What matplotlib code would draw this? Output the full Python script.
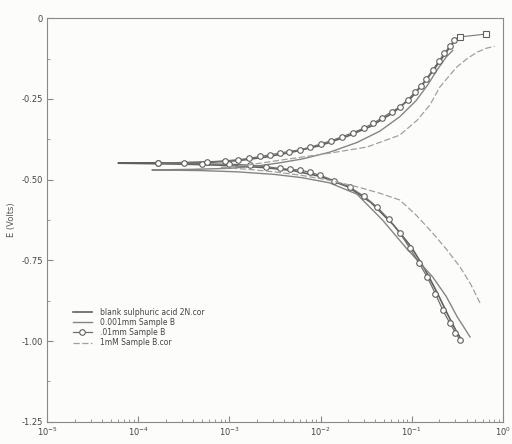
import numpy as np
import matplotlib.pyplot as plt
from matplotlib.ticker import FixedLocator, LogLocator, NullFormatter

# log10 of current density and potential (V)
# blank sulphuric acid 2N
blank_anodic_logi = [-4.22, -3.6, -3.2, -2.9, -2.6, -2.3, -2.0, -1.7, -1.45, -1.2,
                     -1.0, -0.85, -0.72, -0.62, -0.55, -0.50]
blank_anodic_e = [-0.449, -0.448, -0.446, -0.441, -0.430, -0.414, -0.394, -0.365,
                  -0.335, -0.292, -0.245, -0.195, -0.145, -0.105, -0.078, -0.062]
blank_cath_logi = [-4.22, -3.5, -3.0, -2.6, -2.3, -2.0, -1.7, -1.45, -1.2, -1.0,
                   -0.85, -0.72, -0.60, -0.50, -0.44]
blank_cath_e = [-0.449, -0.452, -0.456, -0.463, -0.472, -0.490, -0.522, -0.570,
                -0.640, -0.710, -0.780, -0.850, -0.920, -0.975, -1.000]

# 0.001mm sample B
s1_anodic_logi = [-3.85, -3.4, -3.0, -2.7, -2.45, -2.2, -1.9, -1.6, -1.35, -1.13,
                  -0.95, -0.82, -0.72, -0.62, -0.55]
s1_anodic_e = [-0.470, -0.468, -0.465, -0.458, -0.448, -0.436, -0.415, -0.385,
               -0.350, -0.305, -0.255, -0.205, -0.160, -0.120, -0.100]
s1_cath_logi = [-3.85, -3.3, -2.9, -2.5, -2.2, -1.9, -1.6, -1.32, -1.05, -0.77,
                -0.62, -0.50, -0.42, -0.36]
s1_cath_e = [-0.470, -0.472, -0.476, -0.484, -0.494, -0.510, -0.545, -0.625,
             -0.715, -0.801, -0.862, -0.925, -0.960, -0.987]

# .01mm sample B (markers)
s2_anodic_logi = [-3.78, -3.50, -3.25, -3.05, -2.90, -2.78, -2.66, -2.55, -2.45,
                  -2.35, -2.23, -2.12, -2.00, -1.88, -1.76, -1.64, -1.52, -1.42,
                  -1.32, -1.22, -1.13, -1.04, -0.96, -0.90, -0.84, -0.77, -0.70,
                  -0.64, -0.58, -0.53]
s2_anodic_e = [-0.449, -0.447, -0.445, -0.442, -0.438, -0.434, -0.428, -0.423,
               -0.418, -0.413, -0.408, -0.400, -0.390, -0.379, -0.367, -0.354,
               -0.340, -0.325, -0.308, -0.290, -0.275, -0.252, -0.228, -0.210,
               -0.188, -0.161, -0.132, -0.108, -0.086, -0.068]
s2_end_logi = [-0.47, -0.18]
s2_end_e = [-0.058, -0.049]
s2_cath_logi = [-3.78, -3.30, -3.00, -2.77, -2.60, -2.45, -2.34, -2.23, -2.12,
                -2.01, -1.85, -1.68, -1.52, -1.38, -1.25, -1.13, -1.02, -0.92,
                -0.83, -0.74, -0.66, -0.58, -0.52, -0.47]
s2_cath_e = [-0.449, -0.451, -0.452, -0.455, -0.460, -0.465, -0.468, -0.470,
             -0.477, -0.486, -0.503, -0.523, -0.552, -0.585, -0.623, -0.665,
             -0.712, -0.758, -0.801, -0.853, -0.903, -0.945, -0.974, -0.996]

# 1mM sample B
s3_anodic_logi = [-3.1, -2.8, -2.45, -2.2, -1.90, -1.49, -1.13, -0.94, -0.80, -0.69,
                  -0.58, -0.50, -0.39, -0.28, -0.18, -0.09]
s3_anodic_e = [-0.462, -0.455, -0.440, -0.430, -0.418, -0.399, -0.362, -0.316,
               -0.269, -0.213, -0.176, -0.150, -0.125, -0.105, -0.093, -0.087]
s3_cath_logi = [-3.1, -2.8, -2.5, -2.2, -1.9, -1.6, -1.35, -1.13, -0.95, -0.77,
                -0.62, -0.47, -0.35, -0.25]
s3_cath_e = [-0.462, -0.468, -0.476, -0.487, -0.502, -0.522, -0.542, -0.563,
             -0.610, -0.665, -0.715, -0.770, -0.825, -0.882]

labels = ["blank sulphuric acid 2N.cor", "0.001mm Sample B", ".01mm Sample B",
          "1mM Sample B.cor"]
y_ticks = [0, -0.25, -0.50, -0.75, -1.00, -1.25]
y_ticklabels = ["0", "-0.25", "-0.50", "-0.75", "-1.00", "-1.25"]
x_ticks = [1e-5, 1e-4, 1e-3, 1e-2, 1e-1, 1e0]
x_ticklabels = ["$10^{-5}$", "$10^{-4}$", "$10^{-3}$", "$10^{-2}$", "$10^{-1}$", "$10^{0}$"]


def branch(logi_a, e_a, logi_c, e_c):
    # cathodic branch reversed then anodic branch, one continuous trace
    li = list(reversed(logi_c)) + list(logi_a)
    e = list(reversed(e_c)) + list(e_a)
    return 10 ** np.array(li), np.array(e)


fig = plt.figure(figsize=(5.12, 4.44), dpi=100)
fig.patch.set_facecolor("#fcfcfa")
ax = fig.add_axes([0.092, 0.05, 0.890, 0.909])
ax.set_facecolor("#fcfcfa")

x, y = branch(blank_anodic_logi, blank_anodic_e, blank_cath_logi, blank_cath_e)
ax.plot(x, y, color="#606060", lw=1.2, label=labels[0])
x, y = branch(s1_anodic_logi, s1_anodic_e, s1_cath_logi, s1_cath_e)
ax.plot(x, y, color="#858585", lw=1.0, label=labels[1])
x, y = branch(s2_anodic_logi, s2_anodic_e, s2_cath_logi, s2_cath_e)
ax.plot(x, y, color="#707070", lw=0.9, marker="o", ms=4, mfc="white",
        mec="#606060", mew=0.8, label=labels[2])
ax.plot(10 ** np.array(s2_end_logi), s2_end_e, color="#777777", lw=0.8,
        marker="s", ms=4.5, mfc="white", mec="#606060", mew=0.8)
x, y = branch(s3_anodic_logi, s3_anodic_e, s3_cath_logi, s3_cath_e)
ax.plot(x, y, color="#a0a0a0", lw=0.9, ls=(0, (5, 2)), label=labels[3])

ax.set_xscale("log")
ax.set_xlim(1e-5, 1e0)
ax.set_ylim(-1.25, 0)
ax.set_xticks(x_ticks)
ax.set_xticklabels(x_ticklabels, fontsize=6, color="#444444")
ax.xaxis.set_minor_locator(LogLocator(base=10, subs=np.arange(2, 10)))
ax.xaxis.set_minor_formatter(NullFormatter())
ax.set_yticks(y_ticks)
ax.set_yticklabels(y_ticklabels, fontsize=6, color="#444444")
ax.yaxis.set_minor_locator(FixedLocator(np.arange(-1.125, 0, 0.25)))
ax.tick_params(which="both", direction="in", color="#888888", pad=3)
ax.tick_params(which="major", length=4)
ax.tick_params(which="minor", length=2)
ax.set_ylabel("E (Volts)", fontsize=6, color="#555555", labelpad=4)
for s in ax.spines.values():
    s.set_color("#8a8a8a")
    s.set_linewidth(0.8)

leg = ax.legend(loc="upper left", bbox_to_anchor=(0.05, 0.29), frameon=False,
                fontsize=5.5, handlelength=2.5, handletextpad=1.0,
                labelspacing=0.15, borderaxespad=0)
for t in leg.get_texts():
    t.set_color("#444444")

fig.savefig("out.png", dpi=100, facecolor=fig.get_facecolor())
